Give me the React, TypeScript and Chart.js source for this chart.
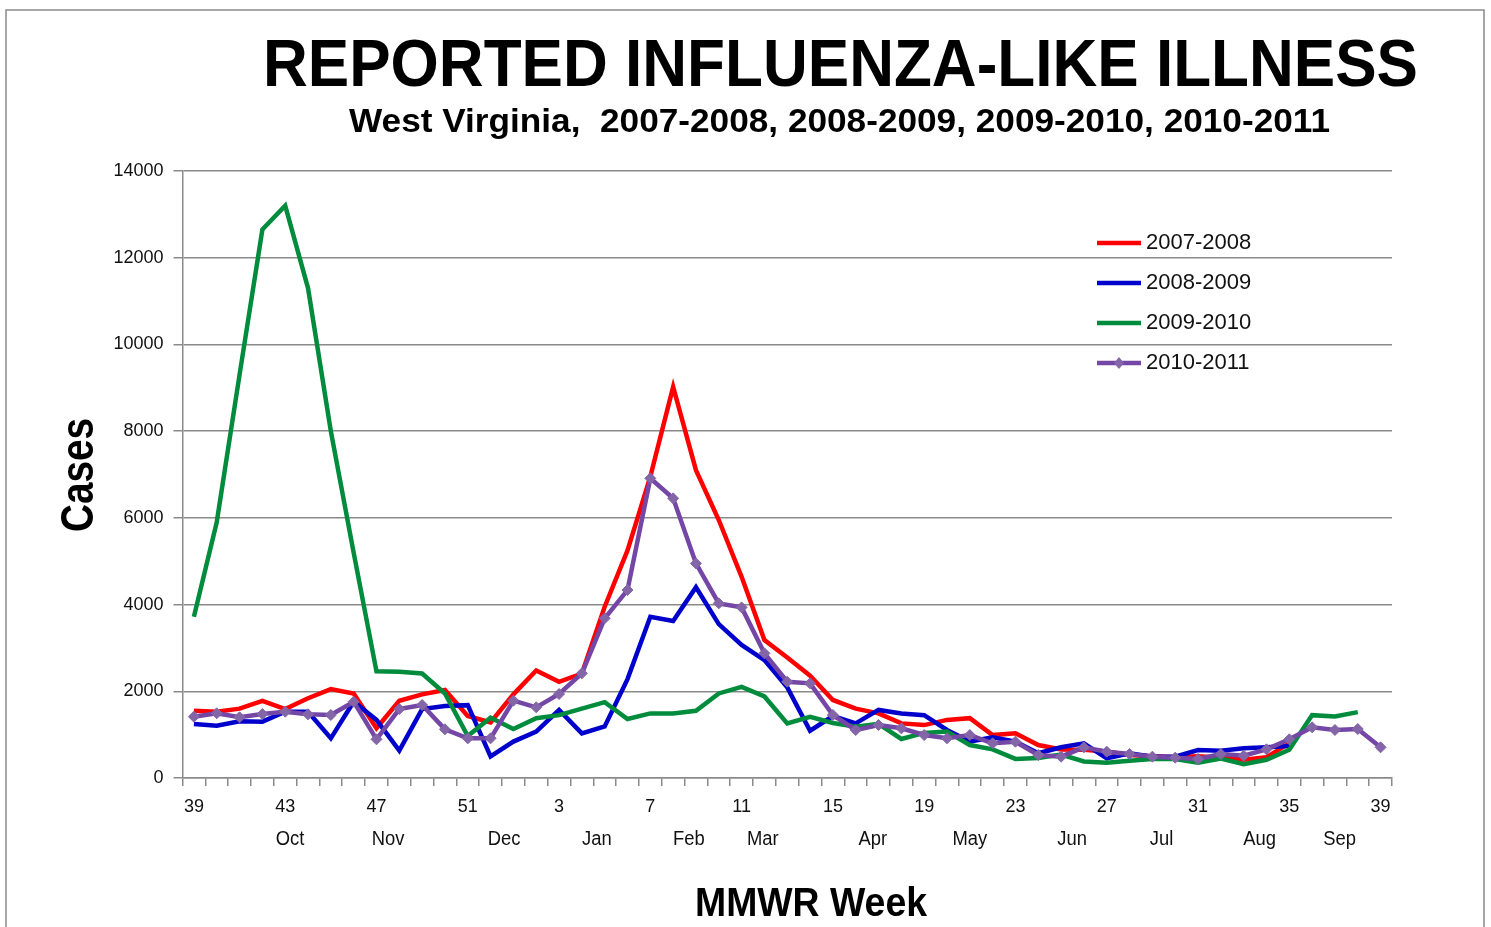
import React, { useEffect, useRef } from 'react';
import { Chart, registerables } from 'chart.js';

Chart.register(...registerables);

// MMWR weeks, week 39 through week 39 of the following year
const weekLabels = [
  39, 40, 41, 42, 43, 44, 45, 46, 47, 48, 49, 50, 51, 52,
  1, 2, 3, 4, 5, 6, 7, 8, 9, 10, 11, 12, 13, 14, 15, 16, 17, 18, 19, 20,
  21, 22, 23, 24, 25, 26, 27, 28, 29, 30, 31, 32, 33, 34, 35, 36, 37, 38, 39,
];

const monthLabels = ['Oct', 'Nov', 'Dec', 'Jan', 'Feb', 'Mar', 'Apr', 'May', 'Jun', 'Jul', 'Aug', 'Sep'];
// position of each month label, in week-index units along the axis
const monthAt = [4.21, 8.51, 13.59, 17.66, 21.69, 24.93, 29.75, 34.0, 38.48, 42.4, 46.7, 50.2];

const yTicks = [0, 2000, 4000, 6000, 8000, 10000, 12000, 14000];

const seasons = ['2007-2008', '2008-2009', '2009-2010', '2010-2011'];

const cases0708 = [
  1550, 1530, 1600, 1780, 1590, 1840, 2050, 1950, 1150, 1780, 1930, 2030, 1430, 1280,
  1930, 2480, 2220, 2410, 3950, 5250, 6950, 9020, 7100, 5950, 4640, 3180, 2780, 2360,
  1800, 1600, 1490, 1260, 1220, 1340, 1380, 990, 1030, 760, 660, 650, 610, 530,
  500, 480, 500, 470, 420, 480, 800, null, null, null, null,
];

const cases0809 = [
  1245, 1206, 1310, 1300, 1530, 1530, 915, 1760, 1340, 630, 1590, 1660, 1680, 500,
  840, 1070, 1570, 1030, 1190, 2280, 3720, 3620, 4400, 3550, 3070, 2720, 2090, 1090,
  1430, 1260, 1570, 1490, 1450, 1107, 840, 940, 840, 570, 710, 800, 454, 570,
  492, 492, 646, 630, 684, 708, 740, null, null, null, null,
];

const cases0910 = [
  3720, 5900, 9300, 12650, 13200, 11300, 8000, 5200, 2460, 2450, 2410, 1950, 970, 1390,
  1130, 1380, 1450, 1600, 1750, 1360, 1490, 1490, 1550, 1950, 2100, 1880, 1260, 1410,
  1270, 1180, 1250, 900, 1040, 1070, 760, 660, 440, 460, 540, 380, 350, 400,
  440, 440, 350, 450, 320, 420, 650, 1450, 1420, 1520, null,
];

const cases1011 = [
  1414, 1492, 1400, 1476, 1530, 1468, 1453, 1760, 892, 1590, 1683, 1123, 915, 915,
  1783, 1630, 1937, 2414, 3683, 4335, 6911, 6450, 4950, 4028, 3935, 2875, 2221, 2183,
  1453, 1107, 1222, 1146, 991, 915, 991, 800, 837, 530, 492, 708, 607, 553,
  492, 469, 438, 553, 515, 661, 892, 1169, 1107, 1130, 708,
];

const seriesColors = ['#FF0000', '#0000CC', '#008C3C', '#7446A6'];
const markerColor = '#8466A8';

function fillFit(ctx: CanvasRenderingContext2D, text: string, x: number, y: number, targetW: number) {
  const w = ctx.measureText(text).width;
  const s = targetW / w;
  ctx.save();
  ctx.translate(x, y);
  ctx.scale(s, 1);
  ctx.textAlign = 'center';
  ctx.fillText(text, 0, 0);
  ctx.restore();
}

const decorPlugin = {
  id: 'decor',
  beforeDraw(chart: any) {
    const ctx = chart.ctx as CanvasRenderingContext2D;
    ctx.save();
    ctx.fillStyle = '#ffffff';
    ctx.fillRect(0, 0, chart.width, chart.height);
    ctx.strokeStyle = '#8a8a8a';
    ctx.lineWidth = 1.5;
    ctx.strokeRect(6, 10, 1478, 1000);
    ctx.restore();
  },
  afterDraw(chart: any) {
    const ctx = chart.ctx as CanvasRenderingContext2D;
    const xs = chart.scales.x;
    ctx.save();
    ctx.fillStyle = '#000';
    ctx.textBaseline = 'alphabetic';

    // Title
    ctx.font = 'bold 67px "Liberation Sans", Arial, sans-serif';
    fillFit(ctx, 'REPORTED INFLUENZA-LIKE ILLNESS', 840.5, 86, 1155);

    // Subtitle
    ctx.font = 'bold 33px "Liberation Sans", Arial, sans-serif';
    fillFit(ctx, 'West Virginia,  2007-2008, 2008-2009, 2009-2010, 2010-2011', 839.5, 132, 981);

    // Y axis title
    ctx.save();
    ctx.translate(93, 475);
    ctx.rotate(-Math.PI / 2);
    ctx.font = 'bold 47px "Liberation Sans", Arial, sans-serif';
    fillFit(ctx, 'Cases', 0, 0, 114);
    ctx.restore();

    // X axis title
    ctx.font = 'bold 41px "Liberation Sans", Arial, sans-serif';
    fillFit(ctx, 'MMWR Week', 811, 916, 232);

    // Month labels
    ctx.font = '20px "Liberation Sans", Arial, sans-serif';
    ctx.textBaseline = 'middle';
    ctx.fillStyle = '#111';
    monthLabels.forEach((m, i) => {
      const w = ctx.measureText(m).width;
      fillFit(ctx, m, xs.getPixelForValue(monthAt[i]), 839, w * 0.92);
    });

    // Legend
    const lx0 = 1097;
    const lx1 = 1141;
    ctx.font = '22px "Liberation Sans", Arial, sans-serif';
    ctx.textAlign = 'left';
    ctx.textBaseline = 'middle';
    seasons.forEach((s, i) => {
      const y = 243 + i * 40;
      ctx.strokeStyle = seriesColors[i];
      ctx.lineWidth = 4.5;
      ctx.beginPath();
      ctx.moveTo(lx0, y);
      ctx.lineTo(lx1, y);
      ctx.stroke();
      if (i === 3) {
        ctx.fillStyle = markerColor;
        const cx = (lx0 + lx1) / 2;
        ctx.beginPath();
        ctx.moveTo(cx, y - 6);
        ctx.lineTo(cx + 5, y);
        ctx.lineTo(cx, y + 6);
        ctx.lineTo(cx - 5, y);
        ctx.closePath();
        ctx.fill();
      }
      ctx.fillStyle = '#111';
      ctx.fillText(s, 1146, y);
    });
    ctx.restore();
  },
};

const App: React.FC = () => {
  const ref = useRef<HTMLCanvasElement>(null);

  useEffect(() => {
    if (!ref.current) return;
    const allSeries = [cases0708, cases0809, cases0910, cases1011];
    const chart = new Chart(ref.current, {
      type: 'line',
      data: {
        labels: weekLabels.map(String),
        datasets: allSeries.map((data, i) => ({
          label: seasons[i],
          data,
          borderColor: seriesColors[i],
          backgroundColor: i === 3 ? markerColor : seriesColors[i],
          borderWidth: 4.5,
          tension: 0,
          spanGaps: false,
          pointRadius: i === 3 ? 5.5 : 0,
          pointHoverRadius: i === 3 ? 5.5 : 0,
          pointStyle: 'rectRot',
          pointBackgroundColor: markerColor,
          pointBorderColor: markerColor,
          pointBorderWidth: 1,
          order: 4 - i,
        })),
      },
      options: {
        responsive: false,
        maintainAspectRatio: false,
        animation: false,
        devicePixelRatio: 1,
        layout: { padding: { left: 0, right: 99, top: 171, bottom: 0 } },
        plugins: {
          legend: { display: false },
          title: { display: false },
          tooltip: { enabled: false },
        },
        scales: {
          x: {
            type: 'category',
            offset: true,
            grid: {
              display: true,
              offset: true,
              drawOnChartArea: false,
              drawTicks: true,
              tickLength: 8,
              color: '#8a8a8a',
              lineWidth: 1.5,
            },
            border: { display: true, color: '#8a8a8a', width: 1.5 },
            ticks: {
              autoSkip: false,
              maxRotation: 0,
              minRotation: 0,
              padding: 10,
              color: '#111',
              font: { family: '"Liberation Sans", Arial, sans-serif', size: 18 },
              callback: (_v: any, idx: number) => (idx % 4 === 0 ? String(weekLabels[idx]) : ''),
            },
            afterFit: (s: any) => {
              s.height = 149;
            },
          },
          y: {
            min: yTicks[0],
            max: yTicks[yTicks.length - 1],
            afterBuildTicks: (s: any) => {
              s.ticks = yTicks.map((v) => ({ value: v }));
            },
            grid: {
              color: '#8a8a8a',
              lineWidth: 1.5,
              drawTicks: true,
              tickLength: 9,
            },
            border: { display: true, color: '#8a8a8a', width: 1.5 },
            ticks: {
              padding: 10,
              color: '#111',
              font: { family: '"Liberation Sans", Arial, sans-serif', size: 18 },
              callback: (v: any) => String(v),
            },
            afterFit: (s: any) => {
              s.width = 182.5;
            },
          },
        },
      },
      plugins: [decorPlugin],
    });
    return () => chart.destroy();
  }, []);

  return (
    <div style={{ position: 'absolute', left: 0, top: 0, width: 1491, height: 927, background: '#fff' }}>
      <canvas ref={ref} width={1491} height={927} style={{ display: 'block', width: 1491, height: 927 }} />
    </div>
  );
};

export default App;
